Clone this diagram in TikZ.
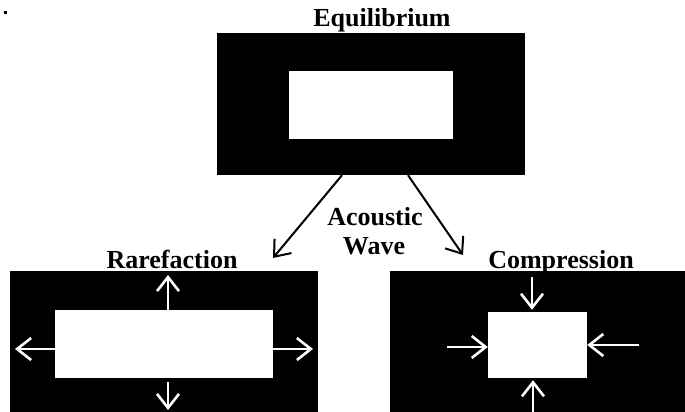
\documentclass[tikz,border=0pt]{standalone}
\usepackage{fontspec}
\setmainfont{Liberation Serif}
\usetikzlibrary{arrows.meta, positioning}

\begin{document}
\begin{tikzpicture}[
    x=1pt, y=-1pt,
    panel/.style={
        rectangle, fill=black, draw=none,
        inner sep=0pt
    },
    hole/.style={
        rectangle, fill=white, draw=none,
        inner sep=0pt
    },
    heading/.style={
        font=\fontsize{26}{29}\selectfont\bfseries,
        inner sep=0pt, anchor=base
    },
    push/.style={
        white, line width=2.6pt,
        -{Straight Barb[length=14pt, width=22pt]}
    },
    wave/.style={
        black, line width=2pt,
        -{Straight Barb[length=14pt, width=22pt]}
    }
]
\useasboundingbox (0,0) rectangle (685,412);

% stray mark
\fill (3.5,11) rectangle (6.5,14);

% Panels
\node[panel, minimum width=308pt, minimum height=142pt] (eq) at (371,104) {};
\node[hole, minimum width=164pt, minimum height=68pt] (eqhole) at (371,105) {};

\node[panel, minimum width=308pt, minimum height=141pt] (rare) at (164,341.5) {};
\node[hole, minimum width=218pt, minimum height=68pt] (rarehole) at (164,344) {};

\node[panel, minimum width=295pt, minimum height=141pt] (comp) at (537.5,341.5) {};
\node[hole, minimum width=99pt, minimum height=66pt] (comphole) at (537.5,345) {};

% Titles
\node[heading] (eqtitle) at (382,27) {Equilibrium};
\node[heading] (raretitle) at (172,268) {Rarefaction};
\node[heading] (comptitle) at (561,268) {Compression};
\node[heading] (acoustic) at (375,225) {Acoustic};
\node[heading] (wavetitle) at (374,254) {Wave};

% Acoustic wave arrows
\coordinate (rareTip) at (273,258);
\coordinate (compTip) at (463,255);
\draw[wave] ([xshift=-29pt]eq.south) -- (rareTip);
\draw[wave] ([xshift=37pt]eq.south) -- (compTip);

% Rarefaction: outward
\coordinate (rareN) at (168,275);
\coordinate (rareS) at (168,410);
\coordinate (rareW) at (15,349);
\coordinate (rareE) at (313,349);
\draw[push] (rarehole.north -| rareN) -- (rareN);
\draw[push] ([yshift=-4pt]rarehole.south -| rareS) -- (rareS);
\draw[push] (rarehole.west |- rareW) -- (rareW);
\draw[push] (rarehole.east |- rareE) -- (rareE);

% Compression: inward
\coordinate (compN) at (532,277);
\coordinate (compS) at (533,412);
\coordinate (compW) at (447,347);
\coordinate (compE) at (639,345);
\draw[push] (compN) -- ([yshift=2pt]comphole.north -| compN);
\draw[push] (compS) -- ([yshift=-2pt]comphole.south -| compS);
\draw[push] (compW) -- (comphole.west |- compW);
\draw[push] (compE) -- (comphole.east |- compE);

\end{tikzpicture}
\end{document}
